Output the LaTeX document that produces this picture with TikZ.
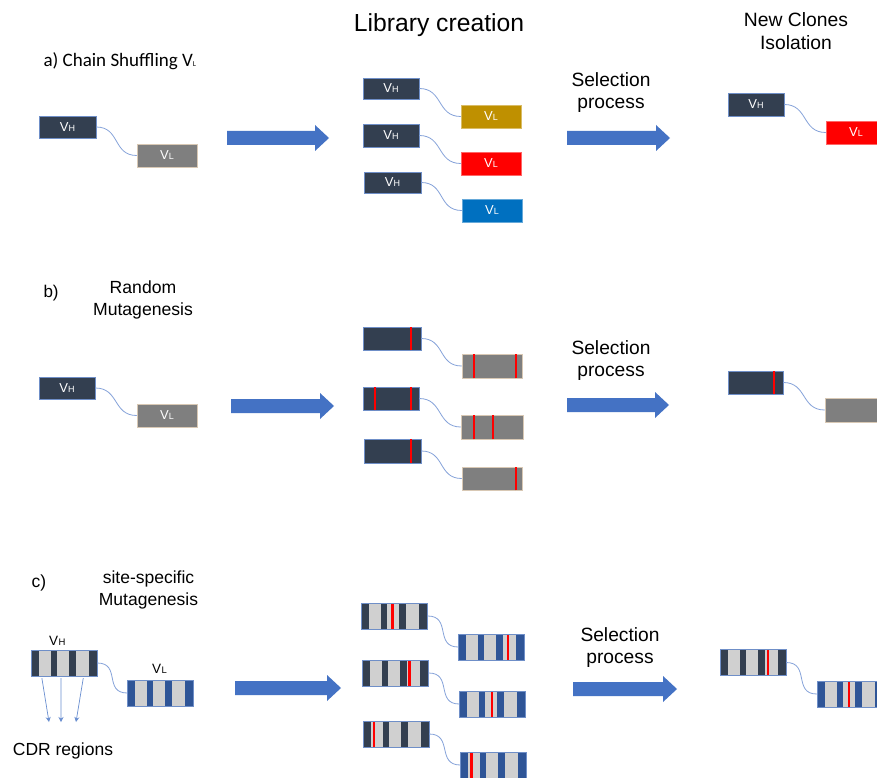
\documentclass[tikz,border=0pt]{standalone}
\usepackage{fontspec}
\setmainfont{Liberation Sans}
\newfontfamily\calfont{Carlito}
\usetikzlibrary{calc,arrows.meta}
\definecolor{navy}{HTML}{333F50}
\definecolor{boxgray}{HTML}{7F7F7F}
\definecolor{gold}{HTML}{BF9000}
\definecolor{vred}{HTML}{FF0000}
\definecolor{vblue}{HTML}{0070C0}
\definecolor{arrowblue}{HTML}{4472C4}
\definecolor{linkblue}{HTML}{86A3DA}
\definecolor{stripelight}{HTML}{D0D0D0}
\definecolor{lnavy}{HTML}{2F5597}
\definecolor{boxedge}{HTML}{6F8FC8}
\definecolor{grayedge}{HTML}{D8C8B4}
\tikzset{
  vbox/.style={rectangle, inner sep=0pt, draw=boxedge, line width=0.5pt, text=white,
    font=\fontsize{13}{13}\selectfont},
  vnavy/.style={vbox, fill=navy},
  vgray/.style={vbox, fill=boxgray, draw=grayedge},
  sbox/.style={rectangle, inner sep=0pt, draw=none, minimum width=66pt, minimum height=26pt},
  link/.style={draw=linkblue, line width=0.8pt},
  redmark/.style={draw=vred, line width=2.2pt},
  cdr/.style={draw=arrowblue!80, line width=0.7pt, -{Stealth[length=5pt,width=5pt]}},
  txt/.style={anchor=base, align=center},
}
\newcommand\vlab[1]{V\kern0.3pt{\fontsize{9}{9}\selectfont #1}}
\newcommand\stripes[1]{%
  \foreach \sa/\sb in {0.12/0.30,0.39/0.57,0.68/0.87}{%
    \fill[stripelight] ($(#1.south west)!\sa!(#1.south east)$) rectangle ($(#1.north west)!\sb!(#1.north east)$);}%
}
\newcommand\redmarks[2]{%
  \foreach \rr in {#2}{%
    \draw[redmark] ($(#1.south west)!\rr!(#1.south east)$) -- ($(#1.north west)!\rr!(#1.north east)$);}%
}
\newcommand\boxline[1]{\draw[draw=boxedge, line width=0.5pt] (#1.south west) rectangle (#1.north east);}
\newcommand\bigarrow[3]{%
  \fill[arrowblue] (#1,#3-7) -- (#2-14,#3-7) -- (#2-14,#3-13) -- (#2,#3) -- (#2-14,#3+13) -- (#2-14,#3+7) -- (#1,#3+7) -- cycle;}
\newcommand\linkit[2]{\draw[link] (#1.east) .. controls +(24,0) and +(-24,0) .. (#2.west);}
\begin{document}
\begin{tikzpicture}[x=1pt,y=-1pt]
\clip (0,0) rectangle (877,778);
\fill[white] (0,0) rectangle (877,778);

% ---------- titles ----------
\node[txt, font=\fontsize{24.7}{28}\selectfont] (title) at (439,32) {Library creation};
\node[txt, font=\fontsize{19.3}{23}\selectfont] (newclones) at (796,50) {New Clones\\Isolation};

% ---------- row a ----------
\node[anchor=base west, font=\calfont\fontsize{19}{22}\selectfont] (laba) at (40,67) {a) Chain Shuffling V{\fontsize{7.5}{8}\selectfont L}};
\node[vnavy, minimum width=57pt, minimum height=22pt] (aH) at (67.5,127) {\vlab{H}};
\node[vgray, minimum width=60pt, minimum height=23pt] (aL) at (167,155.5) {\vlab{L}};
\linkit{aH}{aL}
\bigarrow{227}{329}{138}

\node[vnavy, minimum width=56pt, minimum height=21pt] (a1H) at (391,88.5) {\vlab{H}};
\node[vnavy, minimum width=56pt, minimum height=23pt] (a2H) at (391,135.5) {\vlab{H}};
\node[vnavy, minimum width=57pt, minimum height=21pt] (a3H) at (392.5,182.5) {\vlab{H}};
\node[vbox, fill=gold, draw=gold!60, minimum width=60pt, minimum height=23pt] (a1L) at (491,116.5) {\vlab{L}};
\node[vbox, fill=vred, draw=vred!60, minimum width=60pt, minimum height=23pt] (a2L) at (491,163.5) {\vlab{L}};
\node[vbox, fill=vblue, draw=vblue!60, minimum width=60pt, minimum height=23pt] (a3L) at (492,210.5) {\vlab{L}};
\linkit{a1H}{a1L}
\linkit{a2H}{a2L}
\linkit{a3H}{a3L}

\node[txt, font=\fontsize{19.2}{22}\selectfont] (sela) at (611,109) {Selection\\process};
\bigarrow{567}{670}{138}

\node[vnavy, minimum width=56pt, minimum height=23pt] (aRH) at (756,104.5) {\vlab{H}};
\node[vbox, fill=vred, draw=vred!60, minimum width=60pt, minimum height=23pt] (aRL) at (856,132.5) {\vlab{L}};
\linkit{aRH}{aRL}

% ---------- row b ----------
\node[anchor=base west, font=\fontsize{17}{20}\selectfont] (labb) at (40,297) {b)};
\node[txt, font=\fontsize{17.6}{22}\selectfont] (randmut) at (143,315) {Random\\Mutagenesis};
\node[vnavy, minimum width=56pt, minimum height=22pt] (bH) at (67,388) {\vlab{H}};
\node[vgray, minimum width=60pt, minimum height=23pt] (bL) at (167,415.5) {\vlab{L}};
\linkit{bH}{bL}
\bigarrow{231}{334}{406}

\node[vnavy, minimum width=58pt, minimum height=23pt] (b1H) at (392,338.5) {};
\node[vnavy, minimum width=56pt, minimum height=23pt] (b2H) at (391,398.5) {};
\node[vnavy, minimum width=57pt, minimum height=24pt] (b3H) at (392.5,451) {};
\node[vgray, minimum width=60pt, minimum height=24pt] (b1L) at (492,366) {};
\node[vgray, minimum width=62pt, minimum height=24pt] (b2L) at (492,427) {};
\node[vgray, minimum width=60pt, minimum height=23pt] (b3L) at (492,478.5) {};
\redmarks{b1H}{0.83}
\redmarks{b2H}{0.21,0.85}
\redmarks{b3H}{0.82}
\redmarks{b1L}{0.2,0.9}
\redmarks{b2L}{0.21,0.52}
\redmarks{b3L}{0.9}
\linkit{b1H}{b1L}
\linkit{b2H}{b2L}
\linkit{b3H}{b3L}

\node[txt, font=\fontsize{19.2}{22}\selectfont] (selb) at (611,376) {Selection\\process};
\bigarrow{567}{669}{405}

\node[vnavy, minimum width=55pt, minimum height=23pt] (bRH) at (755.5,382.5) {};
\node[vgray, minimum width=60pt, minimum height=24pt] (bRL) at (855,410) {};
\redmarks{bRH}{0.83}
\linkit{bRH}{bRL}

% ---------- row c ----------
\node[anchor=base west, font=\fontsize{17.5}{20}\selectfont] (labc) at (28,587) {c)};
\node[txt, font=\fontsize{17.5}{22}\selectfont] (sitemut) at (148.5,605) {site-specific\\Mutagenesis};

\node[sbox, fill=navy] (cH) at (64,663) {};
\node[sbox, fill=lnavy] (cL) at (160.5,693) {};
\stripes{cH}\boxline{cH}
\stripes{cL}\boxline{cL}
\node[anchor=base west, font=\fontsize{13.5}{13.5}\selectfont, inner sep=0pt] (cHlab) at (49,645) {V\kern0.3pt{\fontsize{9.5}{9.5}\selectfont H}};
\node[anchor=base west, font=\fontsize{13.5}{13.5}\selectfont, inner sep=0pt] (cLlab) at (152,673) {V\kern0.3pt{\fontsize{9.5}{9.5}\selectfont L}};
\linkit{cH}{cL}

\coordinate (cdr1) at (49,722);
\coordinate (cdr2) at (61,722);
\coordinate (cdr3) at (76,722);
\draw[cdr] ($(cH.south west)!0.167!(cH.south east)+(0,2)$) -- (cdr1);
\draw[cdr] ($(cH.south west)!0.455!(cH.south east)+(0,2)$) -- (cdr2);
\draw[cdr] ($(cH.south west)!0.79!(cH.south east)+(0,2)$) -- (cdr3);
\node[txt, font=\fontsize{17.5}{20}\selectfont] (cdrlab) at (63,755) {CDR regions};

\bigarrow{235}{341}{688}

\node[sbox, fill=navy] (c1H) at (394.5,616) {};
\node[sbox, fill=navy] (c2H) at (395.5,673) {};
\node[sbox, fill=navy] (c3H) at (396,734) {};
\node[sbox, fill=lnavy] (c1L) at (491.5,647) {};
\node[sbox, fill=lnavy] (c2L) at (492.5,704) {};
\node[sbox, fill=lnavy] (c3L) at (493.5,765) {};
\foreach \nn/\pos in {c1H/0.47,c2H/0.71,c3H/0.17,c1L/0.75,c2L/0.49,c3L/0.17}{%
  \stripes{\nn}\redmarks{\nn}{\pos}\boxline{\nn}}
\linkit{c1H}{c1L}
\linkit{c2H}{c2L}
\linkit{c3H}{c3L}

\node[txt, font=\fontsize{19.2}{22}\selectfont] (selc) at (620,663) {Selection\\process};
\bigarrow{573}{677}{689}

\node[sbox, fill=navy] (cRH) at (753,662.5) {};
\node[sbox, fill=lnavy] (cRL) at (850,694) {};
\stripes{cRH}\redmarks{cRH}{0.73}\boxline{cRH}
\stripes{cRL}\redmarks{cRL}{0.49}\boxline{cRL}
\linkit{cRH}{cRL}
\end{tikzpicture}
\end{document}
